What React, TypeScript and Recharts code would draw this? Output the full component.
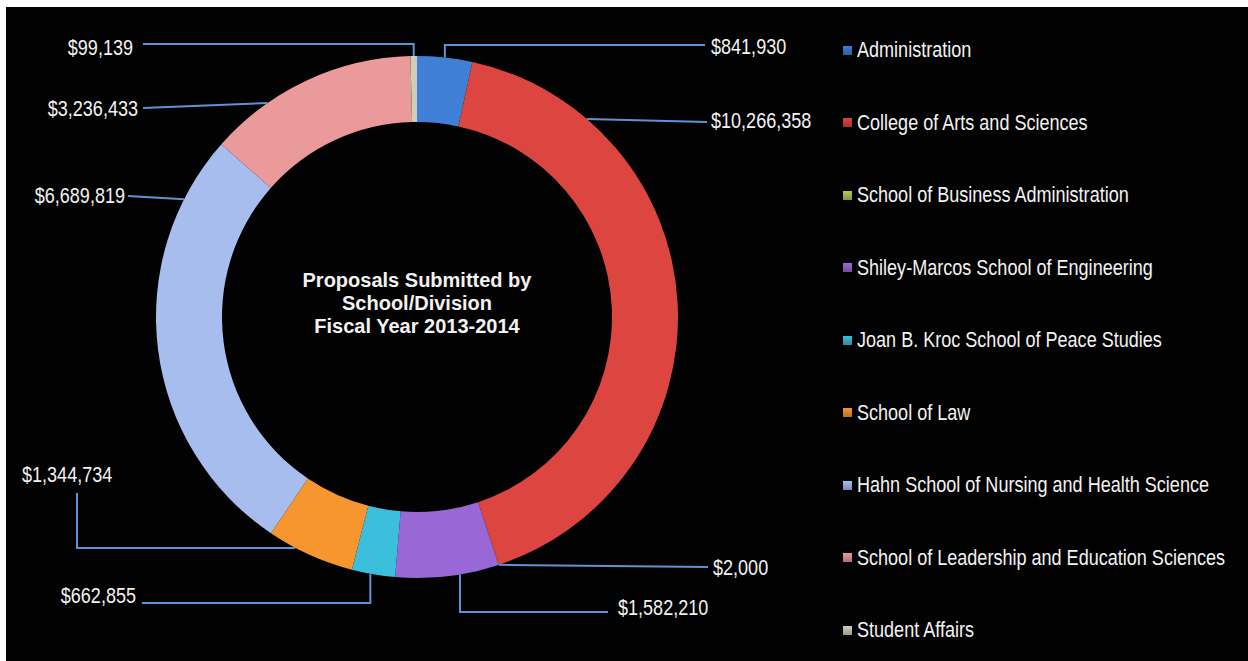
import { PieChart, Pie, Cell, Legend } from "recharts";

const divisions = [
  "Administration",
  "College of Arts and Sciences",
  "School of Business Administration",
  "Shiley-Marcos School of Engineering",
  "Joan B. Kroc School of Peace Studies",
  "School of Law",
  "Hahn School of Nursing and Health Science",
  "School of Leadership and Education Sciences",
  "Student Affairs",
];

const amounts = [841930, 10266358, 2000, 1582210, 662855, 1344734, 6689819, 3236433, 99139];

const colors = [
  "#3f7fd6",
  "#dc4540",
  "#b9c94c",
  "#9a68d6",
  "#3cbfdc",
  "#f7962f",
  "#a6bdee",
  "#eb9a9c",
  "#cfcfb8",
];

// leader lines: t = where on the slice arc the line starts (0..1),
// bend = "v" vertical first, "h" horizontal first, "d" straight.
// end / text are offsets from the ring centre.
const leaders = [
  { t: 0.5, bend: "v", end: [288, -272], text: [294, -271], anchor: "start" },
  { t: 0.19, bend: "d", end: [290, -195], text: [294, -197], anchor: "start" },
  { t: 0.5, bend: "d", end: [291, 250], text: [296, 250], anchor: "start" },
  { t: 0.38, bend: "v", end: [191, 295], text: [201, 290], anchor: "start" },
  { t: 0.57, bend: "v", end: [-275, 286], text: [-281, 278], anchor: "end" },
  { t: 0.68, bend: "h", end: [-340, 176], text: [-395, 157], anchor: "start" },
  { t: 0.85, bend: "d", end: [-289, -121], text: [-292, -122], anchor: "end" },
  { t: 0.29, bend: "d", end: [-274, -209], text: [-279, -209], anchor: "end" },
  { t: 0.5, bend: "v", end: [-274, -273], text: [-284, -270], anchor: "end" },
];

const data = divisions.map((name, i) => ({ name, value: amounts[i] }));

// no Arial Narrow here, so squeeze Liberation Sans horizontally
const FONT = '"Liberation Sans", Arial, sans-serif';
const SQUEEZE = 0.82;
const RAD = Math.PI / 180;

const money = (v: number) => "$" + v.toLocaleString("en-US");

function LeaderLabel(props: any) {
  const { cx, cy, outerRadius, startAngle, endAngle, index, value } = props;
  const l = leaders[index];
  const a = (startAngle + (endAngle - startAngle) * l.t) * RAD;
  const sx = cx + outerRadius * Math.cos(a);
  const sy = cy - outerRadius * Math.sin(a);
  const ex = cx + l.end[0];
  const ey = cy + l.end[1];
  let pts = `${sx},${sy} ${ex},${ey}`;
  if (l.bend === "v") pts = `${sx},${sy} ${sx},${ey} ${ex},${ey}`;
  if (l.bend === "h") pts = `${sx},${sy} ${ex},${sy} ${ex},${ey}`;
  return (
    <g>
      <polyline points={pts} fill="none" stroke="#5f92d4" strokeWidth={2} />
      <text
        transform={`translate(${cx + l.text[0]},${cy + l.text[1]}) scale(${SQUEEZE},1)`}
        x={0}
        y={0}
        dy="0.36em"
        textAnchor={l.anchor}
        fill="#f2f2f2"
        fontFamily={FONT}
        fontSize={22}
      >
        {money(value)}
      </text>
    </g>
  );
}

function LegendList() {
  return (
    <div style={{ fontFamily: FONT, fontSize: 22, color: "#f2f2f2" }}>
      {divisions.map((name, i) => (
        <div
          key={name}
          style={{ height: 72.5, display: "flex", alignItems: "center", whiteSpace: "nowrap" }}
        >
          <span
            style={{
              display: "inline-block",
              flexShrink: 0,
              width: 9,
              height: 9,
              marginRight: 5,
              background: `linear-gradient(${colors[i]}, ${colors[i]}bb)`,
            }}
          />
          <span style={{ display: "inline-block", transform: `scaleX(${SQUEEZE})`, transformOrigin: "left center" }}>
            {name}
          </span>
        </div>
      ))}
    </div>
  );
}

export default function App() {
  return (
    <div style={{ position: "absolute", left: 0, top: 0, width: 1248, height: 661, background: "#fff" }}>
      <div style={{ position: "absolute", left: 6, top: 7, width: 1242, height: 654, background: "#020202", overflow: "hidden" }}>
        <PieChart width={1242} height={654} margin={{ top: 0, right: 0, bottom: 0, left: 0 }}>
          <Pie
            data={data}
            dataKey="value"
            nameKey="name"
            cx={411}
            cy={310}
            innerRadius={195}
            outerRadius={261}
            startAngle={90}
            endAngle={-270}
            stroke="none"
            label={LeaderLabel}
            labelLine={false}
            isAnimationActive={false}
          >
            {data.map((d, i) => (
              <Cell key={d.name} fill={colors[i]} />
            ))}
          </Pie>
          <Legend
            layout="vertical"
            align="right"
            verticalAlign="top"
            content={LegendList}
            wrapperStyle={{ left: 837, top: 7, width: 405 }}
          />
        </PieChart>
        <div
          style={{
            position: "absolute",
            left: 261,
            top: 262,
            width: 300,
            textAlign: "center",
            color: "#f2f2f2",
            fontFamily: FONT,
            fontWeight: "bold",
            fontSize: 20,
            lineHeight: "23px",
          }}
        >
          Proposals Submitted by
          <br />
          School/Division
          <br />
          Fiscal Year 2013-2014
        </div>
      </div>
    </div>
  );
}
